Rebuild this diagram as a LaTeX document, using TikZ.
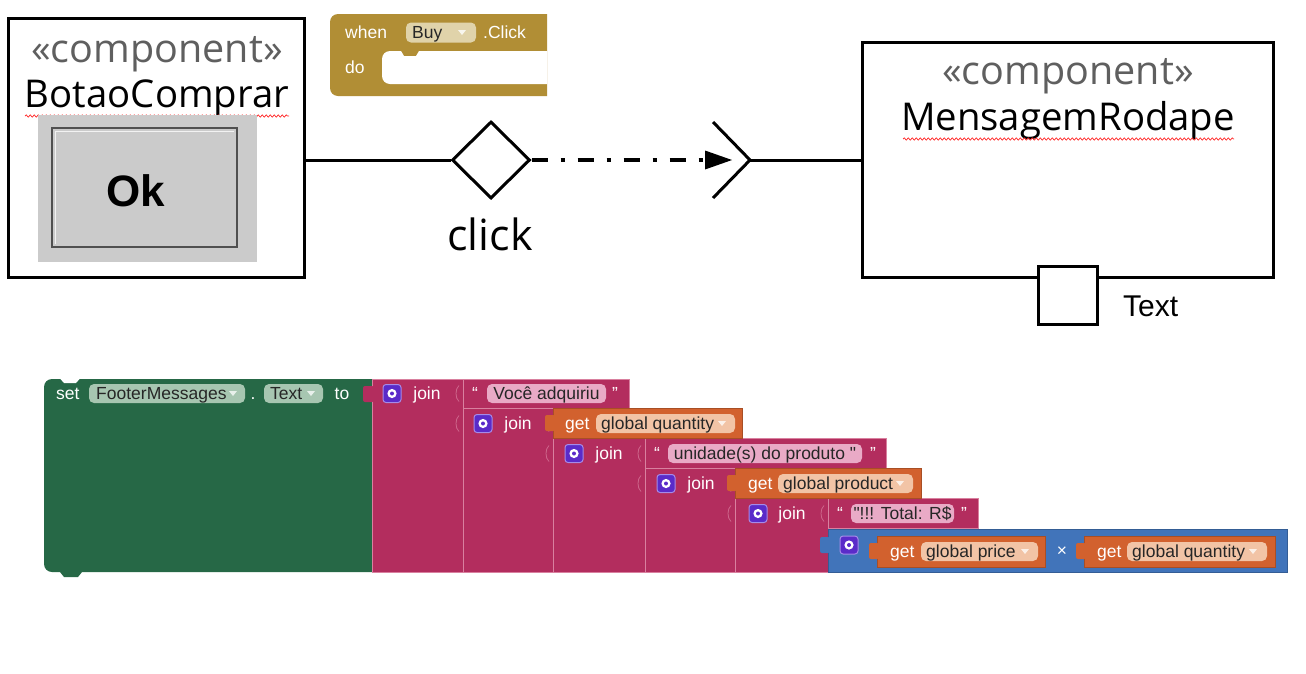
\documentclass[tikz,border=0pt]{standalone}
\usepackage{fontspec}
\setmainfont{Open Sans}
\newfontfamily\blk{Liberation Sans}
\usetikzlibrary{shapes.geometric,arrows.meta,decorations.pathmorphing}
\definecolor{stereo}{HTML}{5F5F5F}
\definecolor{mustard}{HTML}{B18E35}
\definecolor{mustpill}{HTML}{E0D3AA}
\definecolor{grn}{HTML}{266846}
\definecolor{grnpill}{HTML}{A7C6B1}
\definecolor{pnk}{HTML}{B32D5E}
\definecolor{pnkline}{HTML}{D9809F}
\definecolor{pnkpill}{HTML}{E9AAC6}
\definecolor{org}{HTML}{D2612E}
\definecolor{orgpill}{HTML}{F2C4A6}
\definecolor{blu}{HTML}{4174BA}
\definecolor{gearc}{HTML}{5A2BC9}
\definecolor{gearl}{HTML}{A58BE8}
\definecolor{btngray}{HTML}{CBCBCB}
\definecolor{btnline}{HTML}{505050}
\begin{document}
\begin{tikzpicture}[x=1pt,y=-1pt,
  umlbox/.style={draw, line width=3pt, fill=white, inner sep=0pt},
  stereotxt/.style={font=\fontsize{39.5}{39.5}\selectfont, text=stereo, inner sep=0pt, anchor=base},
  nametxt/.style={font=\fontsize{38.3}{38.3}\selectfont, text=black, inner sep=0pt, anchor=base},
  squig/.style={draw=red!85, line width=0.7pt, decorate, decoration={snake, amplitude=1.1pt, segment length=4pt}},
  bt/.style={font=\blk\fontsize{17.5}{17.5}\selectfont, inner sep=0pt, text height=12.5pt, text depth=0pt},
  wt/.style={bt, text=white},
  dt/.style={bt, text=black!85},
  pill/.style={rounded corners=5pt, inner sep=0pt, minimum height=19pt},
  pinkblk/.style={fill=pnk, draw=pnkline, line width=0.8pt, inner sep=0pt, anchor=north west},
  orgblk/.style={fill=org, draw=org!80!black, line width=0.6pt, inner sep=0pt, anchor=north west},
  gear/.style={fill=gearc, draw=gearl, line width=1pt, rounded corners=3pt, minimum width=18pt, minimum height=18pt, inner sep=0pt},
  notchmark/.style={draw=pnkline, line width=0.8pt, opacity=0.7},
  ddarrow/.style={fill=white, opacity=0.75}
]
\useasboundingbox (0,0) rectangle (1306,673);
\fill[white] (0,0) rectangle (1306,673);

% ---------- left component ----------
\node[umlbox, minimum width=296pt, minimum height=259pt] (bc) at (156,147.5) {};
\node[stereotxt] (bcst) at (157,62) {«component»};
\node[nametxt] (bcname) at (157,107) {BotaoComprar};
\draw[squig] (25,116) -- (289,116);
\node[fill=btngray, minimum width=219pt, minimum height=147pt, inner sep=0pt] (okbg) at (147.5,188.5) {};
\node[draw=btnline, line width=2.5pt, fill=btngray, minimum width=185pt, minimum height=119pt, inner sep=0pt] (okbtn) at (144.5,187.5) {};
\draw[white!90!gray, line width=1pt] (55,244) -- (55,131) -- (234,131);
\node[font=\blk\bfseries\fontsize{44}{44}\selectfont, inner sep=0pt] (ok) at (136,191) {Ok};

% ---------- diamond and connectors ----------
\node[diamond, draw, line width=3pt, fill=white, minimum width=78pt, minimum height=77pt, inner sep=0pt] (dia) at (491,160) {};
\node[font=\fontsize{43}{43}\selectfont, inner sep=0pt, anchor=base] (click) at (490,250) {click};
\draw[line width=3pt] (bc.east |- dia.west) -- (dia.west);
\coordinate (tip) at (732,160);
\coordinate (sock) at (750,160);
\draw[line width=4.5pt, dash pattern=on 16pt off 13pt on 4pt off 13pt,
      -{Triangle[length=27pt,width=19pt,line width=0pt]}] (dia.east) -- (tip);
\draw[line width=3pt] ([shift={(-37,-38)}]sock) -- (sock) -- ([shift={(-37,38)}]sock);

% ---------- right component ----------
\node[umlbox, minimum width=411pt, minimum height=235pt] (mr) at (1067.5,159.5) {};
\draw[line width=3pt] (sock) -- (sock -| mr.west);
\node[stereotxt] (mrst) at (1068,84) {«component»};
\node[nametxt] (mrname) at (1068,130) {MensagemRodape};
\draw[squig] (903,139) -- (1234,139);
\node[draw, line width=3pt, fill=white, minimum width=59pt, minimum height=58pt, inner sep=0pt] (port) at (1067.5,295) {};
\node[font=\blk\fontsize{30}{30}\selectfont, inner sep=0pt, anchor=base west] (portlbl) at (1123,316) {Text};

% ---------- when Buy.Click block ----------
\fill[mustard] (547,96) [rounded corners=8pt] -- (330,96) -- (330,14) [sharp corners] -- (547,14) -- cycle;
\fill[white] (547,84) [rounded corners=8pt] -- (382,84) -- (382,51) [sharp corners] -- (401,51) -- (404,56) -- (416,56) -- (419,51) -- (547,51) -- cycle;
\node[wt, anchor=west] (when) at (345,32) {when};
\node[pill, fill=mustpill, minimum width=70pt, minimum height=20pt] (buypill) at (441,32.5) {};
\node[dt, anchor=west] (buy) at (412,32.5) {Buy};
\fill[white, opacity=0.8] (458,30) -- (466,30) -- (462,35) -- cycle;
\node[wt, anchor=west] (click2) at (483,32) {.Click};
\node[wt, anchor=west] (do) at (345,67) {do};

% ---------- set block (green) ----------
\fill[grn] (372,379) [rounded corners=8pt] -- (44,379) -- (44,572) [sharp corners] -- (60,572) -- (64,577) -- (78,577) -- (82,572) -- (372,572) -- cycle;
\fill[white] (60,378.5) -- (64,383) -- (76,383) -- (80,378.5) -- cycle;
\node[wt, anchor=west] (set) at (56,393.5) {set};
\node[pill, fill=grnpill, minimum width=156pt] (fmpill) at (167,393.5) {};
\node[dt, anchor=west] (fm) at (96,393.5) {FooterMessages};
\fill[ddarrow] (229,391) -- (237,391) -- (233,396) -- cycle;
\node[wt] (dot) at (253,393.5) {.};
\node[pill, fill=grnpill, minimum width=59pt] (txpill) at (293.5,393.5) {};
\node[dt, anchor=west] (tx) at (270,393.5) {Text};
\fill[ddarrow] (307,391) -- (315,391) -- (311,396) -- cycle;
\node[wt] (to) at (342,393.5) {to};

% ---------- join blocks (pink) ----------
\node[pinkblk, minimum width=91pt, minimum height=193pt] (j1) at (372,379) {};
\node[pinkblk, minimum width=166pt, minimum height=29pt] (t1) at (463,379) {};
\node[pinkblk, minimum width=90pt, minimum height=164pt] (j2) at (463,408) {};
\node[pinkblk, minimum width=92pt, minimum height=134pt] (j3) at (553,438) {};
\node[pinkblk, minimum width=241pt, minimum height=30pt] (t2) at (645,438) {};
\node[pinkblk, minimum width=90pt, minimum height=104pt] (j4) at (645,468) {};
\node[pinkblk, minimum width=93pt, minimum height=74pt] (j5) at (735,498) {};
\node[pinkblk, minimum width=150pt, minimum height=30pt] (t3) at (828,498) {};
\fill[pnk, rounded corners=2pt] (363,386) rectangle (374,402);

% notch marks
\foreach \x/\y in {456/393.5, 456/423.5, 546/423.5, 546/453.5, 638/453.5, 638/483.5, 728/483.5, 728/513.5, 821/513.5}
  \draw[notchmark] (\x+3,\y-8) .. controls (\x-1,\y-5) and (\x-1,\y+5) .. (\x+3,\y+8);

% join labels and gears
\foreach \n/\gx/\jx/\y in {a/392/427/393.5, b/483/518/423.5, c/574/609/453.5, d/666/701/483.5, e/758/792/513.5} {
  \node[gear] (gear\n) at (\gx,\y) {};
  \fill[white] (gear\n.center) circle (4.6pt);
  \fill[gearc] (gear\n.center) circle (2pt);
  \node[wt] (join\n) at (\jx,\y) {join};
}

% text blocks
\node[wt] (q1a) at (475,393.5) {“};
\node[pill, fill=pnkpill, minimum width=119pt] (t1pill) at (546.5,393.5) {};
\node[dt] (t1txt) at (546.5,393.5) {Você adquiriu};
\node[wt] (q1b) at (615,393.5) {”};
\node[wt] (q2a) at (657,453.5) {“};
\node[pill, fill=pnkpill, minimum width=194pt] (t2pill) at (765,453.5) {};
\node[dt] (t2txt) at (765,453.5) {unidade(s) do produto "};
\node[wt] (q2b) at (873,453.5) {”};
\node[wt] (q3a) at (840,513.5) {“};
\node[pill, fill=pnkpill, minimum width=103pt] (t3pill) at (902.5,513.5) {};
\node[dt] (t3txt) at (902.5,513.5) {"!!! Total: R\$};
\node[wt] (q3b) at (964,513.5) {”};

% get global quantity
\node[orgblk, minimum width=189pt, minimum height=30pt] (g1) at (553,408) {};
\fill[org, rounded corners=2pt] (545,415) rectangle (555,431);
\node[wt, anchor=west] (g1get) at (565,423.5) {get};
\node[pill, fill=orgpill, minimum width=139pt] (g1pill) at (665.5,423.5) {};
\node[dt, anchor=west] (g1txt) at (601,423.5) {global quantity};
\fill[ddarrow] (718,421) -- (726,421) -- (722,426) -- cycle;

% get global product
\node[orgblk, minimum width=186pt, minimum height=30pt] (g2) at (735,468) {};
\fill[org, rounded corners=2pt] (727,475) rectangle (737,491);
\node[wt, anchor=west] (g2get) at (748,483.5) {get};
\node[pill, fill=orgpill, minimum width=135pt] (g2pill) at (845.5,483.5) {};
\node[dt, anchor=west] (g2txt) at (783,483.5) {global product};
\fill[ddarrow] (896,481) -- (904,481) -- (900,486) -- cycle;

% multiply block (blue)
\node[fill=blu, draw=blu!80!black, line width=0.6pt, inner sep=0pt, anchor=north west, minimum width=459pt, minimum height=43pt] (mul) at (828,529) {};
\fill[blu, rounded corners=2pt] (820,537) rectangle (830,553);
\node[gear] (gearf) at (849,545) {};
\fill[white] (gearf.center) circle (4.6pt);
\fill[gearc] (gearf.center) circle (2pt);
\node[orgblk, minimum width=168pt, minimum height=31pt] (g3) at (877,536) {};
\fill[org, rounded corners=2pt] (869,543) rectangle (879,559);
\node[wt, anchor=west] (g3get) at (890,551.5) {get};
\node[pill, fill=orgpill, minimum width=117pt] (g3pill) at (979.5,551.5) {};
\node[dt, anchor=west] (g3txt) at (926,551.5) {global price};
\fill[ddarrow] (1021,549) -- (1029,549) -- (1025,554) -- cycle;
\node[wt] (times) at (1062,550) {×};
\node[orgblk, minimum width=191pt, minimum height=31pt] (g4) at (1084,536) {};
\fill[org, rounded corners=2pt] (1076,543) rectangle (1086,559);
\node[wt, anchor=west] (g4get) at (1097,551.5) {get};
\node[pill, fill=orgpill, minimum width=140pt] (g4pill) at (1197,551.5) {};
\node[dt, anchor=west] (g4txt) at (1132,551.5) {global quantity};
\fill[ddarrow] (1249,549) -- (1257,549) -- (1253,554) -- cycle;
\end{tikzpicture}
\end{document}
